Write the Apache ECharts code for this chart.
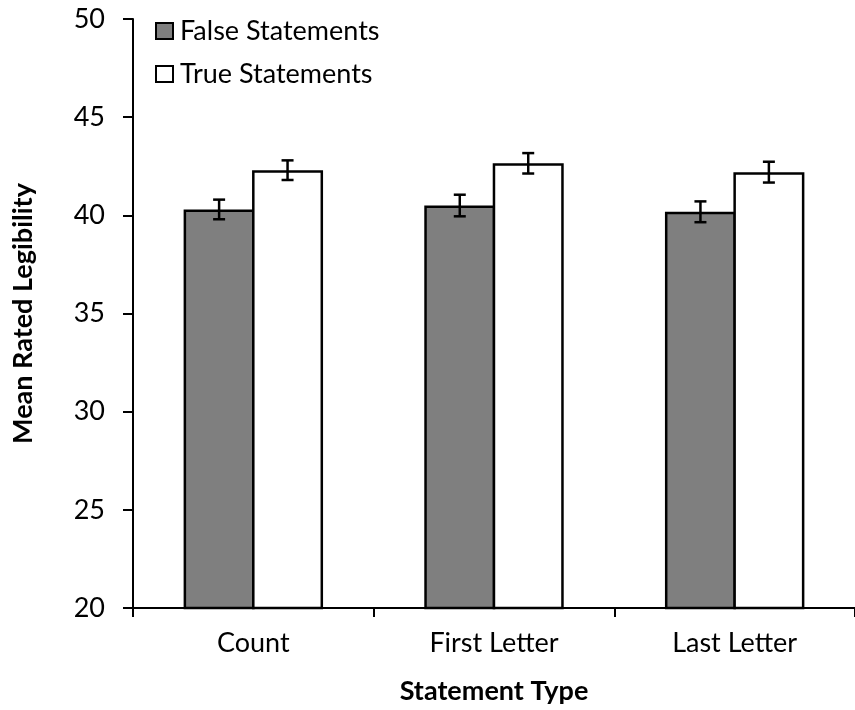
<!DOCTYPE html>
<html>
<head>
<meta charset="utf-8">
<script src="https://cdn.jsdelivr.net/npm/echarts@6/dist/echarts.min.js"></script>
<style>html,body{margin:0;padding:0;background:#fff}#c{width:855px;height:710px}</style>
</head>
<body>
<div id="c"></div>
<script>
const categories = ['Count', 'First Letter', 'Last Letter'];
const falseMeans = [40.3, 40.5, 40.18];
const trueMeans = [42.3, 42.65, 42.2];
const falseErr = [0.5, 0.55, 0.53];
const trueErr = [0.5, 0.52, 0.53];
const yMin = 20, yMax = 50, yStep = 5;
const seriesNames = ['False Statements', 'True Statements'];

const FONT = 'Lato';
const BAR_W = 0.295;    // fraction of band per bar
const BAR_GAP = -0.036; // overlap so the shared edge is a single border

function errData(means, errs) {
  return means.map((m, i) => [i, m - errs[i], m + errs[i]]);
}
function errRender(sign) {
  return function (params, api) {
    const idx = api.value(0);
    const band = api.size([1, 0])[0];
    const w = band * BAR_W;
    const off = sign * (w + w * BAR_GAP) / 2;
    const lo = api.coord([idx, api.value(1)]);
    const hi = api.coord([idx, api.value(2)]);
    const x = lo[0] + off;
    const cap = 6;
    const style = { stroke: '#000', lineWidth: 2.5 };
    return {
      type: 'group',
      children: [
        { type: 'line', shape: { x1: x, y1: lo[1], x2: x, y2: hi[1] }, style },
        { type: 'line', shape: { x1: x - cap, y1: lo[1], x2: x + cap, y2: lo[1] }, style },
        { type: 'line', shape: { x1: x - cap, y1: hi[1], x2: x + cap, y2: hi[1] }, style }
      ]
    };
  };
}

const chart = echarts.init(document.getElementById('c'), null, { renderer: 'canvas' });
chart.setOption({
  animation: false,
  backgroundColor: '#fff',
  textStyle: { fontFamily: FONT },
  grid: { left: 133, right: 0, top: 19, bottom: 102, containLabel: false },
  legend: {
    orient: 'vertical',
    left: 150,
    top: 11,
    itemWidth: 17,
    itemHeight: 16,
    itemGap: 13,
    icon: 'rect',
    data: seriesNames,
    textStyle: { fontFamily: FONT, fontSize: 27, color: '#000', lineHeight: 30, padding: [0, 0, 0, 2] }
  },
  xAxis: {
    type: 'category',
    data: categories,
    boundaryGap: true,
    axisLine: { lineStyle: { color: '#000', width: 2 } },
    axisTick: { show: true, alignWithLabel: false, length: 9, lineStyle: { color: '#000', width: 2 } },
    axisLabel: { color: '#000', fontFamily: FONT, fontSize: 27, margin: 22 },
    name: 'Statement Type',
    nameLocation: 'middle',
    nameGap: 70,
    nameTextStyle: { color: '#000', fontFamily: FONT, fontSize: 27, fontWeight: 'bold' }
  },
  yAxis: {
    type: 'value',
    min: yMin,
    max: yMax,
    interval: yStep,
    splitLine: { show: false },
    axisLine: { show: true, lineStyle: { color: '#000', width: 2 } },
    axisTick: { show: true, length: 10, lineStyle: { color: '#000', width: 2 } },
    axisLabel: { color: '#000', fontFamily: FONT, fontSize: 27, margin: 28 },
    name: 'Mean Rated Legibility',
    nameLocation: 'middle',
    nameRotate: 90,
    nameGap: 96,
    nameTextStyle: { color: '#000', fontFamily: FONT, fontSize: 27, fontWeight: 'bold' }
  },
  series: [
    {
      name: seriesNames[0],
      type: 'bar',
      data: falseMeans,
      barWidth: (BAR_W * 100) + '%',
      barGap: (BAR_GAP * 100) + '%',
      itemStyle: { color: '#7f7f7f', borderColor: '#000', borderWidth: 2.5 },
      z: 2
    },
    {
      name: seriesNames[1],
      type: 'bar',
      data: trueMeans,
      barWidth: (BAR_W * 100) + '%',
      barGap: (BAR_GAP * 100) + '%',
      itemStyle: { color: '#fff', borderColor: '#000', borderWidth: 2.5 },
      z: 2
    },
    {
      type: 'custom',
      data: errData(falseMeans, falseErr),
      renderItem: errRender(-1),
      encode: { x: 0, y: [1, 2] },
      z: 3,
      silent: true
    },
    {
      type: 'custom',
      data: errData(trueMeans, trueErr),
      renderItem: errRender(1),
      encode: { x: 0, y: [1, 2] },
      z: 3,
      silent: true
    }
  ]
});
</script>
</body>
</html>
